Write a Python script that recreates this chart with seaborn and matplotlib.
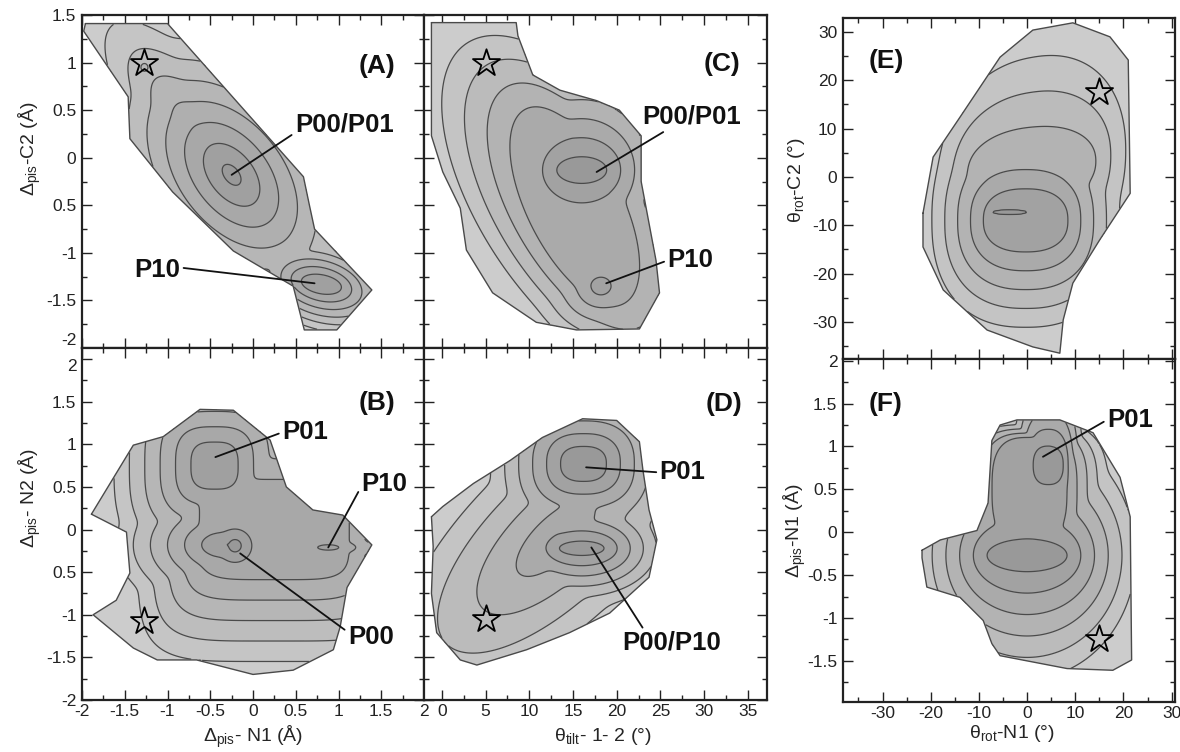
import numpy as np
import matplotlib
matplotlib.use("Agg")
import matplotlib.pyplot as plt
import seaborn as sns
from matplotlib.path import Path
from matplotlib.ticker import MultipleLocator, FixedLocator

# ------------------------------------------------------------------ data
# Each panel: outline of the sampled region, basin descriptors read from the
# picture (centre, core half-size, ring spacing per level, correlation,
# roundness exponent, depth offset), contour levels, star and labelled states.

# Panel A  (x: Δpis-N1, y: Δpis-C2)
A_poly_x = [-1.96, -1.0, 0.59, 0.66, 0.72, 1.39, 0.98, 0.6, 0.47, -0.23, -0.94, -1.44, -1.46, -1.98]
A_poly_y = [1.41, 1.41, -0.2, -0.5, -0.75, -1.39, -1.81, -1.81, -1.35, -0.98, -0.36, 0.2, 0.64, 1.33]
A_cx = [-0.25, -0.3, 0.8, -1.27]
A_cy = [-0.18, -0.1, -1.33, 0.95]
A_hx = [0.0, 0.0, 0.15, 0.0]
A_hy = [0.0, 0.0, 0.05, 0.0]
A_sx = [0.22, 0.27, 0.12, 0.10]
A_sy = [0.22, 0.29, 0.08, 0.10]
A_rho = [-0.45, -0.83, -0.3, 0.0]
A_pw = [2, 2, 2, 2]
A_off = [0.5, 1.7, 1.3, 4.6]
A_levels = [1, 2, 3, 4, 5, 6, 7]
A_star = [-1.27, 1.0]
A_labels = ["P00/P01", "P10"]
A_points = [(-0.25, -0.18), (0.72, -1.32)]
A_textpos = [(0.49, 0.35), (-0.85, -1.18)]

# Panel B  (x: Δpis-N1, y: Δpis-N2)
B_poly_x = [-1.89, -1.4, -1.05, -0.62, -0.23, 0.2, 0.39, 0.7, 1.05, 1.39, 1.1, 1.02, 0.94, 0.47, 0.0,
            -0.66, -1.12, -1.4, -1.87, -1.6, -1.44, -1.48]
B_poly_y = [0.18, 0.99, 1.09, 1.41, 1.40, 1.05, 0.5, 0.23, 0.17, -0.18, -0.68, -1.14, -1.41, -1.65, -1.7,
            -1.53, -1.53, -1.39, -1.0, -0.83, -0.51, -0.03]
B_cx = [-0.21, -0.35, 0.88, -0.45, 0.25]
B_cy = [-0.19, -0.18, -0.21, 0.75, 0.0]
B_hx = [0.0, 0.05, 0.0, 0.15, 0.75]
B_hy = [0.0, 0.0, 0.0, 0.15, 0.42]
B_sx = [0.12, 0.20, 0.20, 0.18, 0.18]
B_sy = [0.12, 0.14, 0.05, 0.18, 0.24]
B_rho = [0.0, 0.0, 0.0, 0.0, 0.0]
B_pw = [2, 2, 2, 3, 5]
B_off = [0.4, 1.0, 1.4, 1.3, 2.3]
B_levels = [1, 2, 3, 4, 5, 6, 7]
B_star = [-1.27, -1.07]
B_labels = ["P01", "P10", "P00"]
B_points = [(-0.44, 0.85), (0.88, -0.21), (-0.15, -0.28)]
B_textpos = [(0.34, 1.14), (1.27, 0.54), (1.11, -1.26)]

# Panel C  (x: θtilt-1-2, y: Δpis-C2)
C_poly_x = [-1.2, 8.5, 8.7, 10.4, 13.5, 17.7, 20.3, 22.8, 22.8, 24.5, 24.9, 22.6, 15.4, 10.8, 5.8, 2.8, 2.1,
            0.1, -1.2]
C_poly_y = [1.42, 1.42, 1.28, 0.87, 0.71, 0.6, 0.5, 0.23, -0.25, -1.08, -1.42, -1.8, -1.81, -1.73, -1.42,
            -0.97, -0.53, -0.15, 0.23]
C_cx = [16.0, 18.2, 15.2]
C_cy = [-0.13, -1.35, -0.51]
C_hx = [1.73, 0.0, 5.6]
C_hy = [0.0, 0.0, 0.87]
C_sx = [1.6, 1.6, 2.6]
C_sy = [0.2, 0.13, 0.25]
C_rho = [0.0, 0.0, -0.6]
C_pw = [2, 2, 2]
C_off = [0.3, 1.3, 2.3]
C_levels = [1, 2, 3, 4, 5, 6]
C_star = [5.0, 1.0]
C_labels = ["P00/P01", "P10"]
C_points = [(17.7, -0.15), (18.8, -1.32)]
C_textpos = [(22.9, 0.43), (25.8, -1.08)]

# Panel D  (x: θtilt-1-2, y: Δpis-N2)
D_poly_x = [-1.2, 0.1, 3.6, 7.8, 11.5, 16.1, 20.0, 22.6, 23.0, 23.7, 24.6, 23.7, 19.2, 14.6, 9.7, 4.0, 2.1,
            -0.6, -1.2, -1.0]
D_poly_y = [0.15, 0.27, 0.54, 0.81, 1.08, 1.30, 1.28, 1.03, 0.7, 0.23, -0.12, -0.56, -0.98, -1.21, -1.41,
            -1.59, -1.53, -1.21, -0.75, -0.2]
D_cx = [16.2, 16.0, 13.0]
D_cy = [0.77, -0.22, -0.1]
D_hx = [1.5, 1.5, 0.0]
D_hy = [0.1, 0.0, 0.0]
D_sx = [1.6, 1.5, 4.5]
D_sy = [0.15, 0.12, 0.45]
D_rho = [0.0, 0.0, 0.7]
D_pw = [2.5, 2, 2]
D_off = [0.3, 0.3, 2.0]
D_levels = [1, 2, 3, 4, 5, 6]
D_star = [5.0, -1.05]
D_labels = ["P01", "P00/P10"]
D_points = [(16.5, 0.73), (17.1, -0.21)]
D_textpos = [(24.9, 0.67), (20.6, -1.33)]

# Panel E  (x: θrot-N1, y: θrot-C2)
E_poly_x = [-21.6, -19.5, -13.9, -5.6, 1.2, 9.5, 17.2, 21.0, 21.4, 15.1, 9.5, 7.5, 6.8, 1.2, -8.3, -17.4,
            -21.6]
E_poly_y = [-7.5, 4.1, 12.4, 24.8, 30.4, 31.9, 29.0, 24.2, -3.4, -13.0, -22.0, -29.6, -36.5, -35.2, -31.7,
            -23.4, -14.5]
E_cx = [-3.6, -0.3, 1.0]
E_cy = [-7.3, -9.0, 2.0]
E_hx = [3.0, 6.9, 11.1]
E_hy = [0.3, 3.8, 3.3]
E_sx = [0.6, 2.67, 3.1]
E_sy = [0.2, 3.9, 7.3]
E_rho = [0.0, 0.0, 0.15]
E_pw = [2, 2.4, 2.2]
E_off = [0.2, 1.3, 3.3]
E_levels = [1, 2, 3, 4, 5, 6]
E_star = [15.0, 17.5]

# Panel F  (x: θrot-N1, y: Δpis-N1)
F_poly_x = [-21.8, -18.0, -10.4, -8.1, -7.3, -5.6, -2.1, 6.8, 13.7, 19.3, 21.4, 21.7, 17.8, 8.3, -5.6, -7.3,
            -9.1, -13.9, -20.8, -21.8]
F_poly_y = [-0.21, -0.09, 0.02, 0.34, 1.07, 1.25, 1.31, 1.31, 1.16, 0.64, 0.18, -1.49, -1.61, -1.59, -1.44,
            -1.3, -1.03, -0.76, -0.64, -0.3]
F_cx = [0.0, 4.4, 0.5]
F_cy = [-0.27, 0.78, 0.5]
F_hx = [6.3, 2.4, 6.3]
F_hy = [0.015, 0.08, 0.57]
F_sx = [2.85, 1.0, 2.1]
F_sy = [0.25, 0.2, 0.05]
F_rho = [0.0, 0.0, 0.0]
F_pw = [2, 2.5, 3]
F_off = [0.3, 0.3, 1.3]
F_levels = [1, 2, 3, 4, 5, 6]
F_star = [15.0, -1.25]
F_labels = ["P01"]
F_points = [(3.3, 0.88)]
F_textpos = [(16.6, 1.31)]

# tick labels as printed in the figure
AB_xticks = [-2, -1.5, -1, -0.5, 0, 0.5, 1, 1.5, 2]
AB_xticklabels = ["-2", "-1.5", "-1", "-0.5", "0", "0.5", "1", "1.5", "2"]
A_yticks = [-2, -1.5, -1, -0.5, 0, 0.5, 1, 1.5]
A_yticklabels = ["-2", "-1.5", "-1", "0.5", "0", "0.5", "1", "1.5"]
B_yticks = [-2, -1.5, -1, -0.5, 0, 0.5, 1, 1.5, 2]
B_yticklabels = ["-2", "-1.5", "-1", "0.5", "0", "0.5", "1", "1.5", "2"]
CD_xticks = [0, 5, 10, 15, 20, 25, 30, 35]
CD_xticklabels = ["0", "5", "10", "15", "20", "25", "30", "35"]
EF_xticks = [-30, -20, -10, 0, 10, 20, 30]
EF_xticklabels = ["-30", "-20", "-10", "0", "10", "20", "30"]
E_yticks = [-30, -20, -10, 0, 10, 20, 30]
E_yticklabels = ["-30", "-20", "-10", "0", "10", "20", "30"]
F_yticks = [-2, -1.5, -1, -0.5, 0, 0.5, 1, 1.5, 2]
F_yticklabels = ["-2", "-1.5", "-1", "-0.5", "0", "0.5", "1", "1.5", "2"]

# ------------------------------------------------------------------ style
sns.set_style("ticks")
plt.rcParams["font.family"] = ["Liberation Sans", "DejaVu Sans"]
plt.rcParams["mathtext.fontset"] = "custom"
plt.rcParams["mathtext.rm"] = "Liberation Sans"
plt.rcParams["mathtext.it"] = "Liberation Sans:italic"
plt.rcParams["axes.unicode_minus"] = False

LINE = "#4a4a4a"


def well_distance(dx, dy, hx, hy, sx, sy, rho, pw):
    """Level distance d such that the point lies on the ring whose semi-axes
    are (hx + d*sx, hy + d*sy)."""
    def Q(d):
        p = dx / (hx + d * sx)
        q = dy / (hy + d * sy)
        u = p
        v = (q - rho * p) / np.sqrt(1 - rho ** 2)
        return (np.abs(u) ** pw + np.abs(v) ** pw) ** (1.0 / pw)
    lo = np.full(dx.shape, 1e-6)
    hi = np.full(dx.shape, 80.0)
    for _ in range(40):
        mid = 0.5 * (lo + hi)
        out = Q(mid) > 1
        lo = np.where(out, mid, lo)
        hi = np.where(out, hi, mid)
    return 0.5 * (lo + hi)


def energy(X, Y, cx, cy, hx, hy, sx, sy, rho, pw, off, T=0.15):
    D = []
    for i in range(len(cx)):
        D.append(off[i] + well_distance(X - cx[i], Y - cy[i], hx[i], hy[i], sx[i], sy[i], rho[i], pw[i]))
    D = np.array(D)
    m = D.min(0)
    return m - T * np.log(np.exp(-(D - m) / T).sum(0))


def draw_surface(ax, px, py, wells, levels, xlim, ylim):
    n = len(levels)
    grays = np.linspace(0.60, 0.80, n + 1)
    cols = [(g, g, g) for g in grays]
    ax.fill(px, py, facecolor=cols[-1], edgecolor="none", zorder=1)
    xs = np.linspace(xlim[0], xlim[1], 320)
    ys = np.linspace(ylim[0], ylim[1], 320)
    X, Y = np.meshgrid(xs, ys)
    Fz = energy(X, Y, *wells)
    inside = Path(np.column_stack([px, py])).contains_points(
        np.column_stack([X.ravel(), Y.ravel()])).reshape(X.shape)
    Fm = np.ma.masked_where(~inside, Fz)
    ax.contourf(X, Y, Fm, levels=[-10] + list(levels), colors=cols[:-1], zorder=2)
    ax.contour(X, Y, Fm, levels=levels, colors=LINE, linewidths=0.9, zorder=3)
    ax.plot(list(px) + [px[0]], list(py) + [py[0]], color=LINE, lw=1.0, zorder=3)


def star(ax, pos):
    sns.scatterplot(x=[pos[0]], y=[pos[1]], marker="*", s=420, facecolor=(0, 0, 0, 0),
                    edgecolor="black", linewidth=1.3, ax=ax, zorder=6, legend=False)


def label_states(ax, labels, points, textpos, specs):
    for lab, pt, tp, (ha, va, rel) in zip(labels, points, textpos, specs):
        ax.annotate(lab, xy=pt, xytext=tp, ha=ha, va=va, fontsize=18.5, fontweight="bold",
                    color="#111111", zorder=7,
                    arrowprops=dict(arrowstyle="-", color="#111111", lw=1.3,
                                    shrinkA=0, shrinkB=0, relpos=rel))


def style_axis(ax, xlim, ylim, xminor, yminor, xt, xtl, yt, ytl, showx, showy):
    ax.set_xlim(*xlim)
    ax.set_ylim(*ylim)
    ax.xaxis.set_major_locator(FixedLocator(xt))
    ax.yaxis.set_major_locator(FixedLocator(yt))
    ax.xaxis.set_minor_locator(MultipleLocator(xminor))
    ax.yaxis.set_minor_locator(MultipleLocator(yminor))
    ax.set_xticklabels(xtl if showx else [])
    ax.set_yticklabels(ytl if showy else [])
    ax.tick_params(which="both", direction="in", top=True, right=True, labelsize=12.5,
                   colors="#222222")
    ax.tick_params(axis="x", pad=3)
    ax.tick_params(axis="y", pad=4)
    ax.tick_params(which="major", length=7, width=1.0)
    ax.tick_params(which="minor", length=3.5, width=1.0)
    for s in ax.spines.values():
        s.set_linewidth(1.6)
        s.set_color("#222222")
        s.set_visible(True)
    ax.set_facecolor("white")


fig = plt.figure(figsize=(11.8, 7.52), dpi=100)
W, H = 1180.0, 752.0


def make_ax(l, r, t, b):
    return fig.add_axes([l / W, (H - b) / H, (r - l) / W, (b - t) / H])


axA = make_ax(82, 424, 15, 348)
axC = make_ax(424, 767, 15, 348)
axB = make_ax(82, 424, 348, 700)
axD = make_ax(424, 767, 348, 700)
axE = make_ax(843, 1175, 18, 359)
axF = make_ax(843, 1175, 359, 702)

limA = ((-2, 2), (-2, 1.5))
limB = ((-2, 2), (-2, 2.13))
limC = ((-2.05, 37.2), (-2, 1.5))
limD = ((-2.05, 37.2), (-2, 2.13))
limE = ((-38.2, 30.7), (-37.7, 32.9))
limF = ((-38.2, 30.7), (-1.98, 2.02))

draw_surface(axA, A_poly_x, A_poly_y, (A_cx, A_cy, A_hx, A_hy, A_sx, A_sy, A_rho, A_pw, A_off), A_levels, *limA)
draw_surface(axB, B_poly_x, B_poly_y, (B_cx, B_cy, B_hx, B_hy, B_sx, B_sy, B_rho, B_pw, B_off), B_levels, *limB)
draw_surface(axC, C_poly_x, C_poly_y, (C_cx, C_cy, C_hx, C_hy, C_sx, C_sy, C_rho, C_pw, C_off), C_levels, *limC)
draw_surface(axD, D_poly_x, D_poly_y, (D_cx, D_cy, D_hx, D_hy, D_sx, D_sy, D_rho, D_pw, D_off), D_levels, *limD)
draw_surface(axE, E_poly_x, E_poly_y, (E_cx, E_cy, E_hx, E_hy, E_sx, E_sy, E_rho, E_pw, E_off), E_levels, *limE)
draw_surface(axF, F_poly_x, F_poly_y, (F_cx, F_cy, F_hx, F_hy, F_sx, F_sy, F_rho, F_pw, F_off), F_levels, *limF)

style_axis(axA, *limA, 0.25, 0.25, AB_xticks, AB_xticklabels, A_yticks, A_yticklabels, False, True)
style_axis(axB, *limB, 0.25, 0.25, AB_xticks, AB_xticklabels, B_yticks, B_yticklabels, True, True)
style_axis(axC, *limC, 2.5, 0.25, CD_xticks, CD_xticklabels, A_yticks, A_yticklabels, False, False)
style_axis(axD, *limD, 2.5, 0.25, CD_xticks, CD_xticklabels, B_yticks, B_yticklabels, True, False)
style_axis(axE, *limE, 5, 5, EF_xticks, EF_xticklabels, E_yticks, E_yticklabels, False, True)
style_axis(axF, *limF, 5, 0.25, EF_xticks, EF_xticklabels, F_yticks, F_yticklabels, True, True)

# shared-border tick labels: keep "-2" of A above the border, "2" of B below it
axA.get_yticklabels()[0].set_va("bottom")
axB.get_yticklabels()[-1].set_va("top")

for ax, s in [(axA, A_star), (axB, B_star), (axC, C_star), (axD, D_star), (axE, E_star), (axF, F_star)]:
    star(ax, s)

label_states(axA, A_labels, A_points, A_textpos, [("left", "center", (0, 0.15)), ("right", "center", (1, 0.6))])
label_states(axC, C_labels, C_points, C_textpos, [("left", "center", (0.27, 0.0)), ("left", "center", (0, 0.5))])
label_states(axB, B_labels, B_points, B_textpos,
             [("left", "center", (0, 0.5)), ("left", "center", (0, 0.4)), ("left", "center", (0, 0.7))])
label_states(axD, D_labels, D_points, D_textpos, [("left", "center", (0, 0.5)), ("left", "center", (0.23, 1.0))])
label_states(axF, F_labels, F_points, F_textpos, [("left", "center", (0, 0.5))])

# panel letters
for ax, txt, x, y, ha in [(axA, "(A)", 0.915, 0.847, "right"), (axC, "(C)", 0.921, 0.853, "right"),
                          (axB, "(B)", 0.915, 0.844, "right"), (axD, "(D)", 0.927, 0.841, "right"),
                          (axE, "(E)", 0.076, 0.874, "left"), (axF, "(F)", 0.076, 0.869, "left")]:
    ax.text(x, y, txt, transform=ax.transAxes, ha=ha, va="center", fontsize=19,
            fontweight="bold", color="#111111", zorder=8)

# axis titles
axA.set_ylabel("Δ$_{\\mathrm{pis}}$-C2 (Å)", fontsize=14)
axA.yaxis.set_label_coords(-0.152, 0.60)
axB.set_ylabel("Δ$_{\\mathrm{pis}}$- N2 (Å)", fontsize=14)
axB.yaxis.set_label_coords(-0.152, 0.574)
axB.set_xlabel("Δ$_{\\mathrm{pis}}$- N1 (Å)", fontsize=14)
axB.xaxis.set_label_coords(0.5, -0.105)
axD.set_xlabel("θ$_{\\mathrm{tilt}}$- 1- 2 (°)", fontsize=14)
axD.xaxis.set_label_coords(0.52, -0.105)
axE.set_ylabel("θ$_{\\mathrm{rot}}$-C2 (°)", fontsize=14)
axE.yaxis.set_label_coords(-0.139, 0.525)
axF.set_ylabel("Δ$_{\\mathrm{pis}}$-N1 (Å)", fontsize=14)
axF.yaxis.set_label_coords(-0.145, 0.50)
axF.set_xlabel("θ$_{\\mathrm{rot}}$-N1 (°)", fontsize=14)
axF.xaxis.set_label_coords(0.51, -0.093)
for ax in [axA, axB, axD, axE, axF]:
    ax.xaxis.label.set_va("center")
    ax.yaxis.label.set_va("center")

fig.savefig("out.png", dpi=100, facecolor="white")
